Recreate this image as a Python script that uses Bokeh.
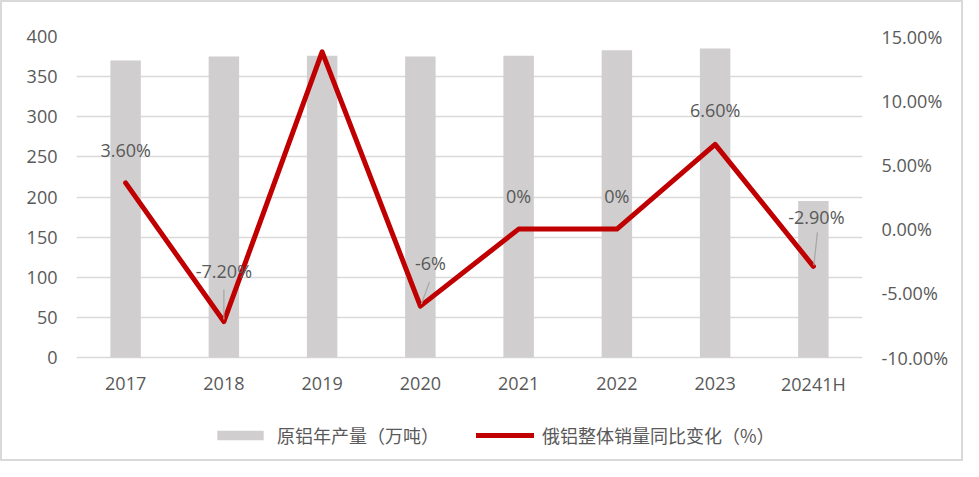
from bokeh.plotting import figure
from bokeh.models import Range1d, LinearAxis, FixedTicker, Legend, LegendItem, ColumnDataSource, PrintfTickFormatter
from bokeh.embed import file_html
from bokeh.resources import INLINE
from bokeh.core.properties import value

categories = ["2017", "2018", "2019", "2020", "2021", "2022", "2023", "20241H"]
output = [370, 375, 376, 375, 376, 383, 385, 195]
yoy = [3.6, -7.2, 13.8, -6.0, 0.0, 0.0, 6.6, -2.9]
yoy_labels = ["3.60%", "-7.20%", "13.80%", "-6%", "0%", "0%", "6.60%", "-2.90%"]
left_ticks = [0, 50, 100, 150, 200, 250, 300, 350, 400]
right_ticks = [-10, -5, 0, 5, 10, 15]
bar_name = "原铝年产量（万吨）"
line_name = "俄铝整体销量同比变化（%）"

# style / layout
FW = 786          # frame width
FH_AXIS = 321     # pixels spanned by the value axes (0..400)
FH_EXTRA = 98     # room below the baseline for category labels and legend
TXT = "#595959"
GRID = "#d9d9d9"
FS = "18px"
lab_dx = [0, 0, 0, 10, 0, 0, 0, 3]
lab_dy = [-33, -51, -27, -43, -33, -33, -34, -49]
# leader lines: (index, start dx, start up, end dx, end up) in px
leaders = [(1, 0, 32, 0, 2), (3, 9, 24, 1, 2), (7, 4, 34, 0.5, 1)]

idx = list(range(len(categories)))
px_x = 8 / FW
px_y = 25 / FH_AXIS
left_min = -FH_EXTRA * 400 / FH_AXIS
right_min = -10 - FH_EXTRA * px_y

p = figure(frame_width=FW, frame_height=FH_AXIS + FH_EXTRA, output_backend="svg", toolbar_location=None,
           x_range=Range1d(-0.5, 7.5), y_range=Range1d(left_min, 400),
           min_border_left=74, min_border_right=99, min_border_top=34, min_border_bottom=4)
p.extra_y_ranges = {"pct": Range1d(right_min, 15)}
p.outline_line_color = None
p.styles = {"border": "2px solid #d9d9d9"}

src = ColumnDataSource(dict(x=idx, out=output, yoy=yoy, lab=yoy_labels, dx=lab_dx, dy=lab_dy,
                            cat=categories, base=[0] * len(idx)))

bars = p.vbar(x="x", top="out", bottom=0, width=0.31, source=src, fill_color="#d0cece", line_color=None)
line = p.line(x="x", y="yoy", source=src, y_range_name="pct", line_color="#c00000", line_width=5,
              line_join="round", line_cap="round")

x0, y0, x1, y1 = [], [], [], []
for i, sdx, sup, edx, eup in leaders:
    x0.append(idx[i] + sdx * px_x)
    y0.append(yoy[i] + sup * px_y)
    x1.append(idx[i] + edx * px_x)
    y1.append(yoy[i] + eup * px_y)
p.segment(x0=x0, y0=y0, x1=x1, y1=y1, y_range_name="pct", line_color="#a6a6a6", line_width=1.2)

p.text(x="x", y="yoy", text="lab", source=src, y_range_name="pct", x_offset="dx", y_offset="dy",
       text_align="center", text_baseline="middle", text_font=value("Open Sans"),
       text_font_size=FS, text_color=TXT)

# category labels under the baseline
p.text(x="x", y="base", text="cat", source=src, y_offset=26,
       text_align="center", text_baseline="middle", text_font=value("Open Sans"),
       text_font_size=FS, text_color=TXT)

# axes
p.xaxis.visible = False
p.yaxis.ticker = FixedTicker(ticks=left_ticks)
ya = p.yaxis[0]
ya.major_tick_line_color = None
ya.minor_tick_line_color = None
ya.major_label_text_font = "Open Sans"
ya.major_label_text_font_size = FS
ya.major_label_text_color = TXT
ya.axis_line_color = None
ya.major_label_standoff = 13

ra = LinearAxis(y_range_name="pct", ticker=FixedTicker(ticks=right_ticks),
                formatter=PrintfTickFormatter(format="%.2f%%"))
ra.axis_line_color = None
ra.major_tick_line_color = None
ra.minor_tick_line_color = None
ra.major_label_text_font = "Open Sans"
ra.major_label_text_font_size = FS
ra.major_label_text_color = TXT
ra.major_label_standoff = 13
p.add_layout(ra, "right")

p.xgrid.grid_line_color = None
p.ygrid.grid_line_color = GRID
p.ygrid.grid_line_width = 1.5

legend = Legend(items=[LegendItem(label=bar_name, renderers=[bars]),
                       LegendItem(label=line_name, renderers=[line])],
                orientation="horizontal", location=(135, 7),
                glyph_width=58, glyph_height=12, label_standoff=8, spacing=37,
                padding=0, margin=0, border_line_alpha=0, background_fill_alpha=0,
                label_text_font="Noto Sans CJK SC", label_text_font_size="18px",
                label_text_color=TXT)
p.add_layout(legend, "center")

open("out.html", "w").write(file_html(p, INLINE))
